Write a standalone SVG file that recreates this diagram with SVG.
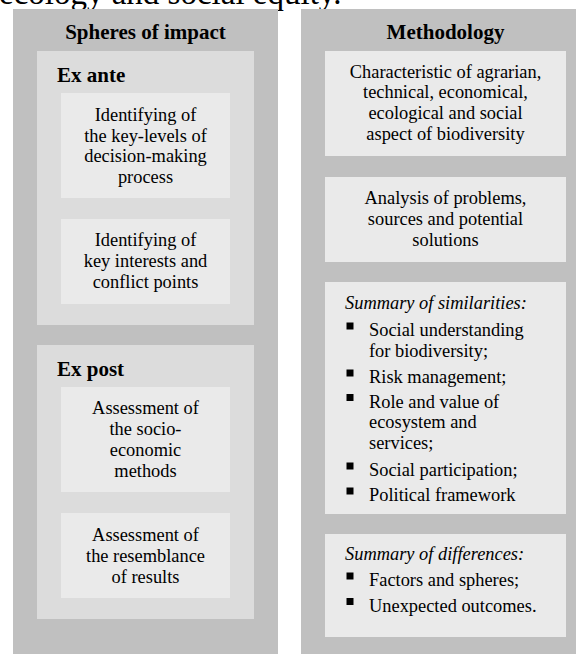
<svg xmlns="http://www.w3.org/2000/svg" width="576" height="654" viewBox="0 0 576 654">
<style>
.outer{fill:#c0c0c0}
.mid{fill:#dcdcdc}
.inner{fill:#eaeaea}
text{font-family:"Liberation Serif","Times New Roman",serif;fill:#000}
.h{font-size:21px;font-weight:bold}
.b{font-size:18.4px}
.c{text-anchor:middle}
.i{font-style:italic}
.bul{fill:#000}
</style>
<rect width="576" height="654" fill="#fff"/>
<text x="-1" y="4" style="font-size:33px">ecology and social equity.</text>

<g id="spheres">
<rect class="outer" x="13" y="9" width="265" height="645"/>
<text class="h c" x="145.5" y="39">Spheres of impact</text>
</g>
<g id="exante">
<rect class="mid" x="37" y="51" width="217" height="274"/>
<text class="h" x="57" y="82">Ex ante</text>
</g>
<g id="exante1">
<rect class="inner" x="61" y="93" width="169" height="105"/>
<text class="b c" x="145.5" y="120.7">Identifying of</text>
<text class="b c" x="145.5" y="141.5">the key-levels of</text>
<text class="b c" x="145.5" y="162.3">decision-making</text>
<text class="b c" x="145.5" y="183">process</text>
</g>
<g id="exante2">
<rect class="inner" x="61" y="219" width="169" height="85"/>
<text class="b c" x="145.5" y="246">Identifying of</text>
<text class="b c" x="145.5" y="266.8">key interests and</text>
<text class="b c" x="145.5" y="287.6">conflict points</text>
</g>
<g id="expost">
<rect class="mid" x="37" y="345" width="217" height="274"/>
<text class="h" x="57" y="375.7">Ex post</text>
</g>
<g id="expost1">
<rect class="inner" x="61" y="387" width="169" height="105"/>
<text class="b c" x="145.5" y="414.3">Assessment of</text>
<text class="b c" x="145.5" y="435.1">the socio-</text>
<text class="b c" x="145.5" y="455.9">economic</text>
<text class="b c" x="145.5" y="476.7">methods</text>
</g>
<g id="expost2">
<rect class="inner" x="61" y="513" width="169" height="85"/>
<text class="b c" x="145.5" y="540.5">Assessment of</text>
<text class="b c" x="145.5" y="561.5">the resemblance</text>
<text class="b c" x="145.5" y="582.5">of results</text>
</g>

<g id="methodology">
<rect class="outer" x="301" y="9" width="275" height="645"/>
<text class="h c" x="445.5" y="39">Methodology</text>
</g>
<g id="method1">
<rect class="inner" x="325" y="51" width="241" height="105"/>
<text class="b c" x="445.5" y="77.7">Characteristic of agrarian,</text>
<text class="b c" x="445.5" y="98.4">technical, economical,</text>
<text class="b c" x="445.5" y="119.1">ecological and social</text>
<text class="b c" x="445.5" y="139.8">aspect of biodiversity</text>
</g>
<g id="method2">
<rect class="inner" x="325" y="177" width="241" height="85"/>
<text class="b c" x="445.5" y="204.2">Analysis of problems,</text>
<text class="b c" x="445.5" y="225">sources and potential</text>
<text class="b c" x="445.5" y="245.8">solutions</text>
</g>
<g id="similarities">
<rect class="inner" x="325" y="282" width="241" height="232"/>
<text class="b i" x="345" y="309">Summary of similarities:</text>
<rect class="bul" x="346.5" y="322.5" width="7" height="7"/>
<text class="b" x="369" y="336">Social understanding</text>
<text class="b" x="369" y="357">for biodiversity;</text>
<rect class="bul" x="346.5" y="369.5" width="7" height="7"/>
<text class="b" x="369" y="383">Risk management;</text>
<rect class="bul" x="346.5" y="394" width="7" height="7"/>
<text class="b" x="369" y="407.5">Role and value of</text>
<text class="b" x="369" y="428.3">ecosystem and</text>
<text class="b" x="369" y="449">services;</text>
<rect class="bul" x="346.5" y="462.5" width="7" height="7"/>
<text class="b" x="369" y="476">Social participation;</text>
<rect class="bul" x="346.5" y="487.5" width="7" height="7"/>
<text class="b" x="369" y="501">Political framework</text>
</g>
<g id="differences">
<rect class="inner" x="325" y="534" width="241" height="103"/>
<text class="b i" x="345" y="560">Summary of differences:</text>
<rect class="bul" x="346.5" y="572.5" width="7" height="7"/>
<text class="b" x="369" y="586">Factors and spheres;</text>
<rect class="bul" x="346.5" y="598" width="7" height="7"/>
<text class="b" x="369" y="611.7">Unexpected outcomes.</text>
</g>
<g id="connectors"/>
</svg>
